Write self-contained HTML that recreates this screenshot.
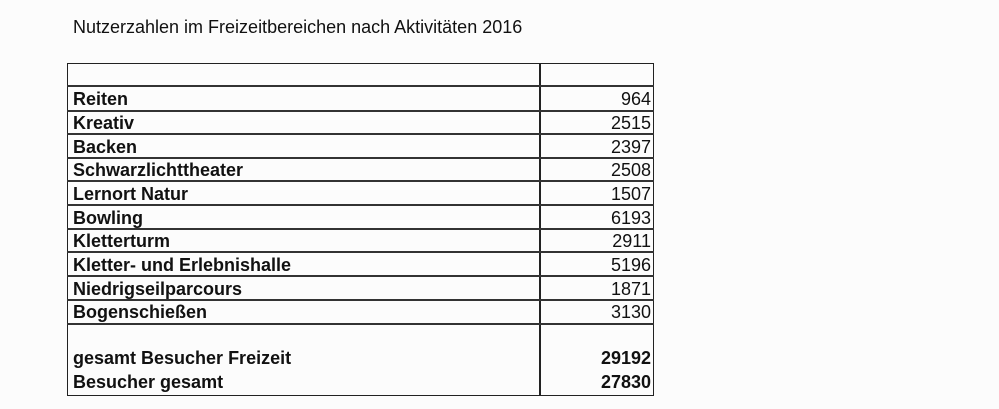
<!DOCTYPE html>
<html><head><meta charset="utf-8"><style>
body{margin:0;width:999px;height:409px;background:#fcfcfc;position:relative;overflow:hidden;font-family:"Liberation Sans",Arial,sans-serif;color:#111}
.t{position:absolute;left:73px;top:17px;font-size:18px}
.tb{position:absolute;left:67px;top:63px;width:587px;height:333px;border:1.5px solid #222;box-sizing:border-box}
.v{position:absolute;left:539px;top:63px;width:1.5px;height:333px;background:#222}
.h{position:absolute;left:67px;width:587px;height:1.5px;background:#333}
.l{position:absolute;left:73px;font-size:18px;font-weight:bold;line-height:20px}
.n{position:absolute;right:348px;font-size:18px;line-height:20px}
.b{font-weight:bold}
</style></head><body>
<div class="t">Nutzerzahlen im Freizeitbereichen nach Aktivitäten 2016</div>
<div class="tb"></div><div class="v"></div>
<div class="h" style="top:85px"></div>
<div class="h" style="top:110px"></div>
<div class="h" style="top:133px"></div>
<div class="h" style="top:157px"></div>
<div class="h" style="top:180px"></div>
<div class="h" style="top:204px"></div>
<div class="h" style="top:228px"></div>
<div class="h" style="top:251px"></div>
<div class="h" style="top:275px"></div>
<div class="h" style="top:299px"></div>
<div class="h" style="top:323px"></div>
<div class="l" style="top:89px">Reiten</div><div class="n" style="top:89px">964</div>
<div class="l" style="top:113px">Kreativ</div><div class="n" style="top:113px">2515</div>
<div class="l" style="top:137px">Backen</div><div class="n" style="top:137px">2397</div>
<div class="l" style="top:160px">Schwarzlichttheater</div><div class="n" style="top:160px">2508</div>
<div class="l" style="top:184px">Lernort Natur</div><div class="n" style="top:184px">1507</div>
<div class="l" style="top:208px">Bowling</div><div class="n" style="top:208px">6193</div>
<div class="l" style="top:231px">Kletterturm</div><div class="n" style="top:231px">2911</div>
<div class="l" style="top:255px">Kletter- und Erlebnishalle</div><div class="n" style="top:255px">5196</div>
<div class="l" style="top:279px">Niedrigseilparcours</div><div class="n" style="top:279px">1871</div>
<div class="l" style="top:302px">Bogenschießen</div><div class="n" style="top:302px">3130</div>
<div class="l" style="top:348px">gesamt Besucher Freizeit</div><div class="n b" style="top:348px">29192</div>
<div class="l" style="top:372px">Besucher gesamt</div><div class="n b" style="top:372px">27830</div>
</body></html>
